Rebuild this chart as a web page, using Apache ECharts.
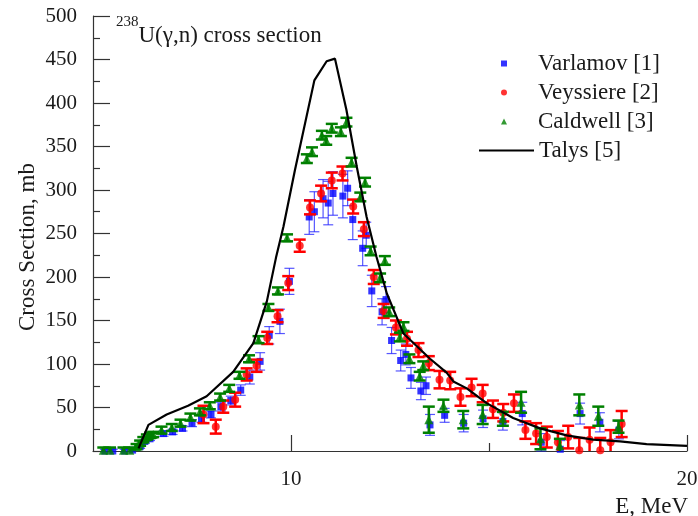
<!DOCTYPE html>
<html><head><meta charset="utf-8">
<script src="https://cdn.jsdelivr.net/npm/echarts@6/dist/echarts.min.js"></script>
<style>html,body{margin:0;padding:0;background:#fff}#c{width:698px;height:516px}</style>
</head><body><div id="c"></div>
<script>
// ---- Data ----
const varlamovE     = [5.3,5.5,5.8,6.0,6.19,6.31,6.44,6.78,7.01,7.26,7.50,7.74,7.98,8.23,8.48,8.73,8.96,9.22,9.45,9.72,9.96,10.46,10.59,10.81,10.94,11.06,11.31,11.43,11.56,11.81,11.90,12.04,12.30,12.40,12.54,12.77,12.90,13.03,13.28,13.41,13.51,13.88,14.36,14.85,15.35,15.84,16.32,16.80,17.30,17.80,18.28];
const varlamovSigma = [0,0,0,1,5,11,14,20,22,26,32,37,42,51,58,70,85,103,133,149,195,269,275,290,285,296,293,302,266,233,248,184,160,174,127,104,111,84,69,75,30,41,32,37,34,43,10,2,43,33,24];
const varlamovErr   = [2,2,2,2,2,2,2,3,3,3,4,4,4,5,5,6,8,10,10,14,15,20,23,22,25,25,25,20,23,20,15,18,15,15,15,12,12,12,10,10,12,8,10,10,10,13,10,10,12,11,10];

const veyssiereE     = [7.79,8.10,8.29,8.59,8.88,9.13,9.40,9.66,9.93,10.22,10.48,10.76,11.03,11.30,11.57,11.84,12.09,12.34,12.65,12.93,13.22,13.48,13.75,14.02,14.28,14.56,14.84,15.10,15.36,15.63,15.92,16.19,16.46,16.74,17.00,17.28,17.54,17.81,18.07,18.35];
const veyssiereSigma = [42,28,51,59,88,98,130,155,193,236,280,296,311,319,281,255,200,161,142,129,116,101,82,81,62,73,66,48,44,55,24,20,16,10,16,1,13,1,10,31];
const veyssiereErr   = [10,8,7,8,7,7,7,7,8,7,8,9,9,8,8,8,8,8,8,8,8,8,10,10,10,10,10,10,10,10,10,12,12,13,13,14,14,14,14,15];

const caldwellE     = [5.26,5.43,5.77,5.93,6.10,6.19,6.27,6.36,6.44,6.52,6.73,6.99,7.21,7.46,7.70,7.95,8.21,8.44,8.70,8.94,9.18,9.43,9.67,9.90,10.40,10.53,10.78,10.89,11.03,11.26,11.40,11.53,11.75,11.87,12.01,12.25,12.37,12.48,12.75,12.84,12.99,13.25,13.34,13.48,13.85,14.35,14.84,15.35,15.81,16.30,16.79,17.28,17.76,18.27];
const caldwellSigma = [1,1,1,1,5,9,13,16,18,19,24,27,32,39,45,52,62,72,87,106,128,165,184,245,336,344,363,357,371,367,378,332,292,309,230,199,219,160,131,143,106,86,98,36,52,36,42,37,56,14,6,53,40,28];
const caldwellErr   = [3,3,3,3,3,3,3,3,3,3,4,4,4,4,4,4,4,4,4,4,4,4,4,4,5,5,5,5,5,5,5,5,5,5,5,5,5,5,5,5,5,5,5,15,7,10,11,8,12,12,8,12,11,7];

const talysE     = [6.15,6.40,6.86,7.40,7.87,8.54,9.05,9.39,9.62,9.81,10.10,10.59,10.90,11.11,11.40,11.66,11.91,12.16,12.42,12.84,13.51,13.93,14.10,14.44,14.94,15.61,16.29,16.96,17.63,18.31,18.98,20.00];
const talysSigma = [3,30,42,52,63,91,124,172,222,258,323,426,448,451,392,327,269,223,181,135,106,90,80,72,55,38,26,18,13,11,8,6];

const xTickLabels = [10,20];
const xMinorTicks = [15];

// ---- Chart ----
const FONT = 'Liberation Serif, Times New Roman, serif';
const TXT = '#1a1a1a';
const AX = '#333';

function pairs(xs, ys){ return xs.map((x,i)=>[x, ys[i]]); }
function errData(xs, ys, es){ return xs.map((x,i)=>[x, ys[i]-es[i], ys[i]+es[i]]); }
function errSeries(id, xs, ys, es, color, width, capHalf, z){
  return {
    type:'custom', id:id, name:id, silent:true, z:z,
    data: errData(xs, ys, es),
    encode:{x:0, y:[1,2]},
    renderItem:function(params, api){
      const x = api.value(0), loRaw = api.value(1), hi = api.value(2);
      const lo = Math.max(0, loRaw);
      const pHi = api.coord([x, hi]), pLo = api.coord([x, lo]);
      const st = {stroke:color, lineWidth:width};
      const ch = [
        {type:'line', shape:{x1:pHi[0], y1:pHi[1], x2:pLo[0], y2:pLo[1]}, style:st},
        {type:'line', shape:{x1:pHi[0]-capHalf, y1:pHi[1], x2:pHi[0]+capHalf, y2:pHi[1]}, style:st}
      ];
      if (loRaw >= 0) ch.push({type:'line', shape:{x1:pLo[0]-capHalf, y1:pLo[1], x2:pLo[0]+capHalf, y2:pLo[1]}, style:st});
      return {type:'group', children:ch};
    }
  };
}

const chart = echarts.init(document.getElementById('c'), null, {renderer:'canvas'});
chart.setOption({
  animation:false,
  backgroundColor:'#fff',
  textStyle:{fontFamily:FONT},
  title:{
    text:'{s|238}{m|U(γ,n) cross section}',
    left:116, top:15, padding:0,
    textStyle:{fontFamily:FONT, color:TXT, fontWeight:'normal',
      rich:{
        s:{fontFamily:FONT, fontSize:15, lineHeight:15, verticalAlign:'top', color:TXT},
        m:{fontFamily:FONT, fontSize:23, lineHeight:32, verticalAlign:'bottom', color:TXT}
      }}
  },
  legend:[
    {orient:'vertical', left:501, top:52, padding:0,
     itemWidth:6, itemHeight:6, itemGap:6,
     textStyle:{fontFamily:FONT, fontSize:23, color:TXT, padding:[0,0,0,26]},
     data:['Varlamov [1]','Veyssiere [2]','Caldwell [3]']},
    {orient:'vertical', left:478, top:139, padding:0,
     itemWidth:55, itemHeight:7,
     textStyle:{fontFamily:FONT, fontSize:23, color:TXT},
     data:[{name:'Talys [5]', itemStyle:{opacity:0}}]}
  ],
  grid:{left:93, right:11, top:16, bottom:65, outerBoundsMode:'none', containLabel:false},
  xAxis:[
    {type:'value', min:5, max:20, interval:5, position:'bottom',
     axisLine:{show:true, lineStyle:{color:AX, width:1.2}},
     axisTick:{show:true, inside:true, length:16, customValues:xTickLabels, lineStyle:{color:AX, width:1.2}},
     axisLabel:{show:true, customValues:xTickLabels, margin:18, fontFamily:FONT, fontSize:21, color:TXT},
     splitLine:{show:false}},
    {type:'value', min:5, max:20, interval:5, position:'bottom',
     axisLine:{show:false},
     axisTick:{show:true, inside:true, length:8, customValues:xMinorTicks, lineStyle:{color:AX, width:1.2}},
     axisLabel:{show:false}, splitLine:{show:false}}
  ],
  yAxis:{type:'value', min:0, max:500, interval:50,
    axisLine:{show:true, lineStyle:{color:AX, width:1.2}},
    axisTick:{show:true, inside:true, length:17, lineStyle:{color:AX, width:1.2}},
    minorTick:{show:true, splitNumber:2, length:7, lineStyle:{color:AX, width:1.2}},
    axisLabel:{margin:16, fontFamily:FONT, fontSize:21, color:TXT},
    splitLine:{show:false}, minorSplitLine:{show:false}},
  graphic:[
    {type:'text', x:28, y:247, rotation:Math.PI/2,
     style:{text:'Cross Section, mb', font:'23px Liberation Serif, serif', fill:TXT, textAlign:'center', textVerticalAlign:'middle'}},
    {type:'text', right:10, top:495,
     style:{text:'E, MeV', font:'23px Liberation Serif, serif', fill:TXT}}
  ],
  series:[
    errSeries('errV1', varlamovE, varlamovSigma, varlamovErr, 'rgba(30,30,255,0.75)', 1.2, 5, 2),
    {type:'scatter', name:'Varlamov [1]', data:pairs(varlamovE, varlamovSigma), symbol:'rect', symbolSize:7,
     itemStyle:{color:'#0000ff'}, z:3},
    errSeries('errV2', veyssiereE, veyssiereSigma, veyssiereErr, '#ff0000', 2.5, 6, 4),
    {type:'scatter', name:'Veyssiere [2]', data:pairs(veyssiereE, veyssiereSigma), symbol:'circle', symbolSize:8,
     itemStyle:{color:'#ff0000'}, z:5},
    errSeries('errC', caldwellE, caldwellSigma, caldwellErr, '#008000', 2.5, 6, 6),
    {type:'scatter', name:'Caldwell [3]', data:pairs(caldwellE, caldwellSigma), symbol:'triangle', symbolSize:9,
     itemStyle:{color:'#008000'}, z:7},
    {type:'line', name:'Talys [5]', data:pairs(talysE, talysSigma), symbol:'none', showSymbol:false, smooth:false,
     lineStyle:{color:'#000', width:2.2}, itemStyle:{color:'#000'}, z:8}
  ]
});
</script></body></html>
